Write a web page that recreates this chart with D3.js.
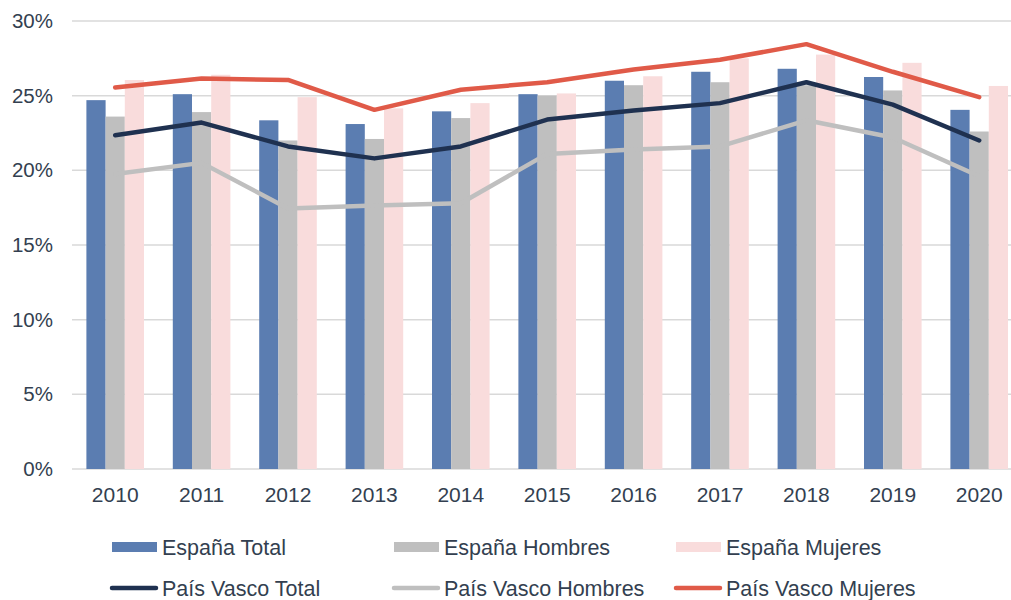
<!DOCTYPE html>
<html>
<head>
<meta charset="utf-8">
<script src="https://cdn.jsdelivr.net/npm/d3@7"></script>
<style>
  body { margin: 0; background: #fff; }
  svg { display: block; font-family: "Liberation Sans", Arial, sans-serif; }
</style>
</head>
<body>
<svg id="chart" width="1011" height="600"></svg>
<script>
const years = ["2010", "2011", "2012", "2013", "2014", "2015", "2016", "2017", "2018", "2019", "2020"];
const yTicks = [0, 5, 10, 15, 20, 25, 30];

// bars (España)
const espanaTotal    = [24.7, 25.1, 23.35, 23.1, 23.95, 25.1, 26.0, 26.6, 26.8, 26.25, 24.05];
const espanaHombres  = [23.6, 23.9, 22.0, 22.1, 23.5, 25.0, 25.7, 25.9, 25.7, 25.35, 22.6];
const espanaMujeres  = [26.05, 26.4, 24.9, 24.15, 24.5, 25.15, 26.3, 27.5, 27.75, 27.2, 25.65];

// lines (País Vasco)
const pvTotal   = [22.35, 23.2, 21.6, 20.8, 21.6, 23.4, 24.0, 24.5, 25.9, 24.4, 22.0];
const pvHombres = [19.75, 20.5, 17.45, 17.65, 17.8, 21.1, 21.4, 21.6, 23.35, 22.2, 19.6];
const pvMujeres = [25.55, 26.15, 26.05, 24.05, 25.4, 25.9, 26.75, 27.4, 28.45, 26.6, 24.9];

const barSeries = [
  { name: "España Total", values: espanaTotal, color: "#5B7DB1" },
  { name: "España Hombres", values: espanaHombres, color: "#BFBFBF" },
  { name: "España Mujeres", values: espanaMujeres, color: "#F9DCDC" }
];
const lineSeries = [
  { name: "País Vasco Total", values: pvTotal, color: "#1F3150" },
  { name: "País Vasco Hombres", values: pvHombres, color: "#BFBFBF" },
  { name: "País Vasco Mujeres", values: pvMujeres, color: "#E05A48" }
];

const textColor = "#333F50";
const fontSize = "21px";
const svg = d3.select("#chart");

const x = d3.scaleBand().domain(years).range([72, 1022.4]).padding(0);
const xSub = d3.scaleBand()
  .domain(barSeries.map((d) => d.name))
  .range([0, x.bandwidth()])
  .paddingInner(0)
  .paddingOuter(0.75);
const y = d3.scaleLinear().domain([0, 30]).range([469, 21]);

// gridlines
svg.append("g")
  .selectAll("line")
  .data(yTicks)
  .join("line")
  .attr("x1", 72)
  .attr("x2", 1022)
  .attr("y1", (d) => y(d))
  .attr("y2", (d) => y(d))
  .attr("stroke", "#D9D9D9")
  .attr("stroke-width", 1.5);

// y axis labels
const yAxis = svg.append("g")
  .attr("transform", "translate(53,0)")
  .call(d3.axisLeft(y).tickValues(yTicks).tickSize(0).tickPadding(0).tickFormat((d) => d + "%"));
yAxis.select(".domain").remove();
yAxis.selectAll("text")
  .attr("fill", textColor)
  .style("font-size", "20.5px")
  .style("font-family", "Liberation Sans, Arial, sans-serif");

// x axis labels
const xAxis = svg.append("g")
  .attr("transform", "translate(0,469)")
  .call(d3.axisBottom(x).tickSize(0).tickPadding(18));
xAxis.select(".domain").remove();
xAxis.selectAll("text")
  .attr("fill", textColor)
  .style("font-size", fontSize)
  .style("font-family", "Liberation Sans, Arial, sans-serif");

// bars
barSeries.forEach((s) => {
  svg.append("g")
    .selectAll("rect")
    .data(s.values)
    .join("rect")
    .attr("x", (d, i) => x(years[i]) + xSub(s.name))
    .attr("y", (d) => y(d))
    .attr("width", xSub.bandwidth())
    .attr("height", (d) => y(0) - y(d))
    .attr("fill", s.color);
});

// lines
const line = d3.line()
  .x((d, i) => x(years[i]) + x.bandwidth() / 2)
  .y((d) => y(d));

lineSeries.forEach((s) => {
  svg.append("path")
    .datum(s.values)
    .attr("d", line)
    .attr("fill", "none")
    .attr("stroke", s.color)
    .attr("stroke-width", 4.5)
    .attr("stroke-linejoin", "round")
    .attr("stroke-linecap", "round");
});

// legend
const legendCols = [112, 394, 676];
const legendRows = [547, 588];

const legBars = svg.append("g")
  .selectAll("g")
  .data(barSeries)
  .join("g")
  .attr("transform", (d, i) => `translate(${legendCols[i]},${legendRows[0]})`);
legBars.append("rect")
  .attr("x", 0)
  .attr("y", -5)
  .attr("width", 45)
  .attr("height", 10)
  .attr("fill", (d) => d.color);
legBars.append("text")
  .attr("x", 50)
  .attr("dy", "0.35em")
  .attr("fill", textColor)
  .style("font-size", "21.5px")
  .text((d) => d.name);

const legLines = svg.append("g")
  .selectAll("g")
  .data(lineSeries)
  .join("g")
  .attr("transform", (d, i) => `translate(${legendCols[i]},${legendRows[1]})`);
legLines.append("line")
  .attr("x1", 0)
  .attr("x2", 44)
  .attr("stroke", (d) => d.color)
  .attr("stroke-width", 4.5)
  .attr("stroke-linecap", "round");
legLines.append("text")
  .attr("x", 50)
  .attr("dy", "0.35em")
  .attr("fill", textColor)
  .style("font-size", "21.5px")
  .text((d) => d.name);
</script>
</body>
</html>
